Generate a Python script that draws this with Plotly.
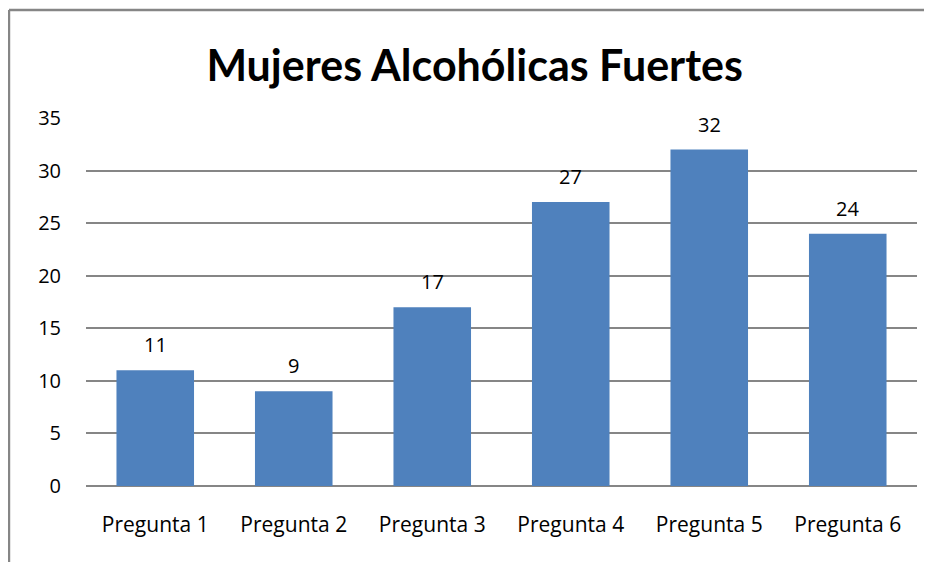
import plotly.graph_objects as go

categories = ["Pregunta 1", "Pregunta 2", "Pregunta 3", "Pregunta 4", "Pregunta 5", "Pregunta 6"]
values = [11, 9, 17, 27, 32, 24]
y_ticks = [0, 5, 10, 15, 20, 25, 30, 35]

TITLE_FONT = "Lato, 'Open Sans', sans-serif"
FONT = "'Open Sans', Lato, sans-serif"
BAR_COLOR = "#4F81BD"
GRID = "#868686"

fig = go.Figure()
fig.add_trace(go.Bar(
    x=categories, y=values,
    marker=dict(color=BAR_COLOR, line=dict(width=0)),
    width=0.56,
    hoverinfo="x+y",
))

# etiquetas de datos encima de las barras
for c, v in zip(categories, values):
    fig.add_annotation(
        x=c, y=v, text=str(v), showarrow=False,
        yanchor="bottom", yshift=10,
        font=dict(family=FONT, size=20, color="#000000"),
    )

# borde del gráfico (solo izquierda y arriba visibles)
fig.add_shape(type="line", xref="paper", yref="paper",
              x0=-0.0927, x1=-0.0927, y0=-0.25, y1=1.2935,
              line=dict(color=GRID, width=2.5))
fig.add_shape(type="line", xref="paper", yref="paper",
              x0=-0.0927, x1=1.05, y0=1.2935, y1=1.2935,
              line=dict(color=GRID, width=2.5))

fig.update_layout(
    width=924, height=554,
    title=dict(text="<b>Mujeres Alcohólicas Fuertes</b>", x=0.505, xanchor="center",
               y=0.895, yanchor="middle",
               font=dict(family=TITLE_FONT, size=43, color="#000000")),
    paper_bgcolor="white",
    plot_bgcolor="white",
    showlegend=False,
    bargap=0.44,
    margin=dict(l=78, r=15, t=110, b=76),
    font=dict(family=FONT, size=20, color="#000000"),
    xaxis=dict(showgrid=False, zeroline=False, showline=False,
               ticks="outside", ticklen=20, tickcolor="rgba(0,0,0,0)",
               tickfont=dict(family=FONT, size=21, color="#000000")),
    yaxis=dict(range=[0, 35], tickvals=y_ticks, showgrid=True,
               gridcolor=GRID, gridwidth=1.5, zeroline=True,
               zerolinecolor=GRID, zerolinewidth=1.5, showline=False,
               ticks="outside", ticklen=20, tickcolor="rgba(0,0,0,0)",
               tickfont=dict(family=FONT, size=20, color="#000000")),
)

fig.write_html("out.html")
